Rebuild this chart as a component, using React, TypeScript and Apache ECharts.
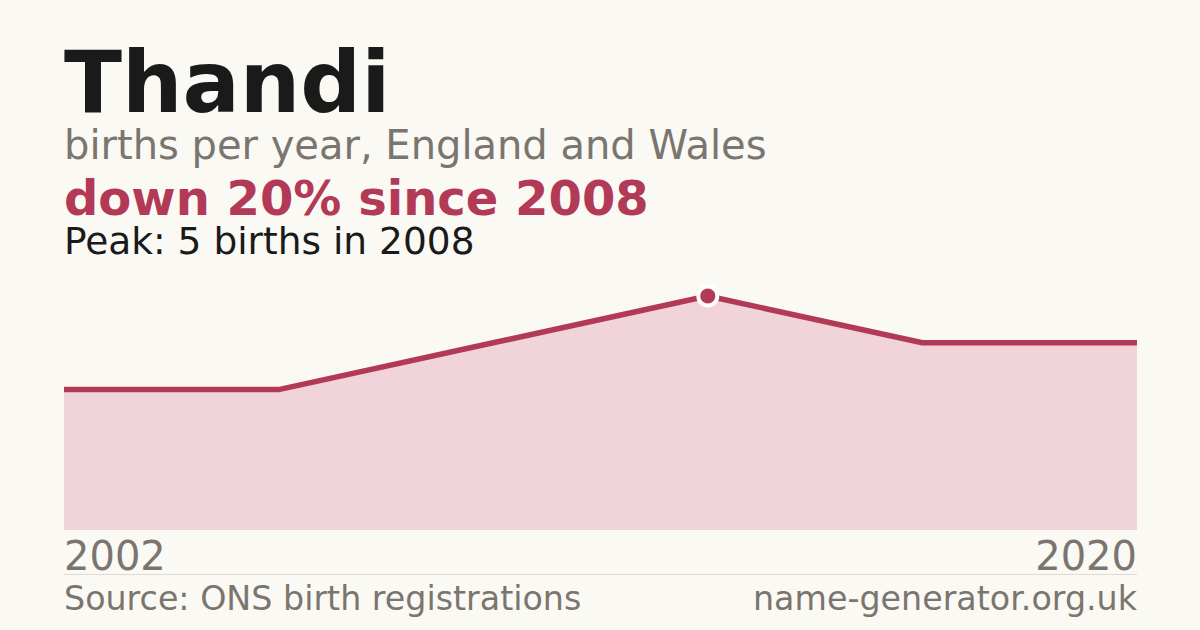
import React, { useEffect, useRef } from "react";
import * as echarts from "echarts";

const years = ["2002", "2005", "2007", "2008", "2013", "2020"];
const births = [3, 3, 4, 5, 4, 4];
const peakIndex = 3;

const titleText = "Thandi";
const subtitleText = "births per year, England and Wales";
const changeText = "down 20% since 2008";
const peakText = "Peak: 5 births in 2008";
const sourceText = "Source: ONS birth registrations";
const siteText = "name-generator.org.uk";

const FONT = "DejaVu Sans";
const CRIMSON = "#b33a57";
const GREY = "#7a756e";

export default function App() {
  const ref = useRef<HTMLDivElement>(null);
  useEffect(() => {
    if (!ref.current) return;
    const chart = echarts.init(ref.current, null, { renderer: "svg" });
    const last = years.length - 1;
    chart.setOption({
      animation: false,
      backgroundColor: "#faf9f4",
      textStyle: { fontFamily: FONT },
      grid: { left: 64, right: 63, top: 296, bottom: 100, containLabel: false },
      xAxis: {
        type: "category",
        data: years,
        boundaryGap: false,
        axisLine: { show: false },
        axisTick: { show: false },
        splitLine: { show: false },
        axisLabel: {
          interval: (i: number) => i === 0 || i === last,
          showMinLabel: true,
          showMaxLabel: true,
          alignMinLabel: "left",
          alignMaxLabel: "right",
          fontSize: 40,
          color: GREY,
          fontFamily: FONT,
          margin: 6,
        },
      },
      yAxis: {
        type: "value",
        min: 0,
        max: 5,
        show: false,
        splitLine: { show: false },
      },
      series: [
        {
          type: "line",
          data: births.map((v, i) =>
            i === peakIndex
              ? {
                  value: v,
                  symbol: "circle",
                  symbolSize: 19,
                  itemStyle: { color: CRIMSON, borderColor: "#ffffff", borderWidth: 4 },
                }
              : { value: v, symbol: "none" }
          ),
          showSymbol: true,
          clip: false,
          lineStyle: { color: CRIMSON, width: 5.5 },
          itemStyle: { color: CRIMSON },
          areaStyle: { color: "#f1d4da", opacity: 1 },
          z: 2,
        },
      ],
      graphic: [
        {
          type: "text",
          x: 64,
          y: 82,
          style: { text: titleText, fontFamily: FONT, fontSize: 85, lineHeight: 85, fontWeight: "bold", fill: "#1a1a1a", verticalAlign: "middle", align: "left" },
        },
        {
          type: "text",
          x: 64,
          y: 145,
          style: { text: subtitleText, fontFamily: FONT, fontSize: 40, lineHeight: 40, fill: GREY, verticalAlign: "middle", align: "left" },
        },
        {
          type: "text",
          x: 64,
          y: 198,
          style: { text: changeText, fontFamily: FONT, fontSize: 48, lineHeight: 44, fontWeight: "bold", fill: CRIMSON, verticalAlign: "middle", align: "left" },
        },
        {
          type: "text",
          x: 64,
          y: 241,
          style: { text: peakText, fontFamily: FONT, fontSize: 37.5, lineHeight: 36, fill: "#1a1a1a", verticalAlign: "middle", align: "left" },
        },
        {
          type: "line",
          shape: { x1: 64, y1: 574.5, x2: 1137, y2: 574.5 },
          style: { stroke: "#dedbd4", lineWidth: 1 },
        },
        {
          type: "text",
          x: 64,
          y: 598,
          style: { text: sourceText, fontFamily: FONT, fontSize: 33.3, lineHeight: 32, fill: GREY, verticalAlign: "middle", align: "left" },
        },
        {
          type: "text",
          x: 1137,
          y: 598,
          style: { text: siteText, fontFamily: FONT, fontSize: 33.3, lineHeight: 32, fill: GREY, verticalAlign: "middle", align: "right" },
        },
      ],
    });
    return () => chart.dispose();
  }, []);
  return (
    <div
      ref={ref}
      style={{ width: 1200, height: 630, position: "fixed", left: 0, top: 0 }}
    />
  );
}
